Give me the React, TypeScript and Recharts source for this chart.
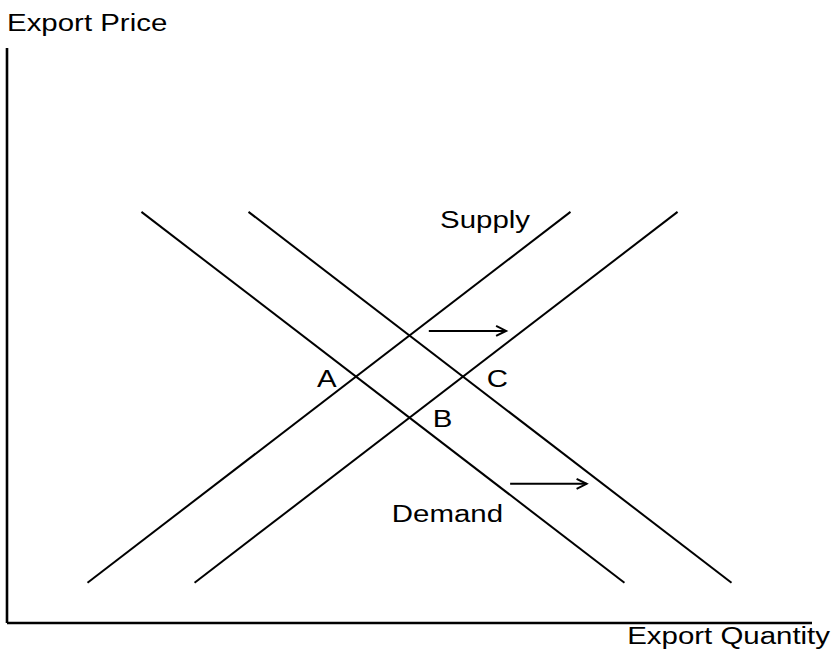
import React from "react";
import { ComposedChart, Line, Scatter, XAxis, YAxis, Label } from "recharts";

// Curves (quantity, price) in chart units 0..100
const supply1 = [
  { x: 10.0, y: 7.0 },
  { x: 70.0, y: 71.5 },
];
const supply2 = [
  { x: 23.3, y: 7.0 },
  { x: 83.3, y: 71.5 },
];
const demand1 = [
  { x: 16.7, y: 71.5 },
  { x: 76.7, y: 7.0 },
];
const demand2 = [
  { x: 30.0, y: 71.5 },
  { x: 90.0, y: 7.0 },
];
const arrowUpper = [
  { x: 52.4, y: 50.8 },
  { x: 62.0, y: 50.8 },
];
const arrowLower = [
  { x: 62.5, y: 24.2 },
  { x: 72.0, y: 24.2 },
];
const pointLabels = [
  { x: 53.8, y: 68.7, text: "Supply" },
  { x: 47.8, y: 17.6, text: "Demand" },
  { x: 38.5, y: 41.0, text: "A" },
  { x: 52.9, y: 34.1, text: "B" },
  { x: 59.6, y: 41.0, text: "C" },
];
const xTitle = "Export Quantity";
const yTitle = "Export Price";

const FONT = "'Liberation Sans', Arial, sans-serif";
const FS = 23;
const SX = 1.28;
const LW = 2;

const StretchText = ({ x, y, text, anchor = "start" }: any) => (
  <g transform={`translate(${x},${y}) scale(${SX},1)`}>
    <text x={0} y={0} fontFamily={FONT} fontSize={FS} fill="#000" textAnchor={anchor}>
      {text}
    </text>
  </g>
);

const arrowDot = (len: number) => (props: any) => {
  const { cx, cy, index } = props;
  if (index !== len - 1 || cx == null) return <g key={`d${index}`} />;
  return (
    <path
      key={`d${index}`}
      d={`M${cx - 10},${cy - 5} L${cx},${cy} L${cx - 10},${cy + 5}`}
      fill="none"
      stroke="#000"
      strokeWidth={LW}
    />
  );
};

const labelShape = (props: any) => {
  const { cx, cy, payload } = props;
  return <StretchText x={cx} y={cy} text={payload.text} />;
};

export default function App() {
  return (
    <div style={{ position: "absolute", left: 0, top: 0, width: 833, height: 664, background: "#fff" }}>
      <ComposedChart
        width={833}
        height={664}
        margin={{ top: 48, right: 21, bottom: 40, left: 6 }}
      >
        <XAxis
          type="number"
          dataKey="x"
          domain={[0, 100]}
          height={1}
          tick={false}
          tickLine={false}
          axisLine={{ stroke: "#000", strokeWidth: 2.6 }}
        >
          <Label
            content={(p: any) => {
              const vb = p.viewBox || { x: 7, y: 623, width: 805 };
              return <StretchText x={vb.x + vb.width + 18} y={vb.y + 21} text={xTitle} anchor="end" />;
            }}
          />
        </XAxis>
        <YAxis
          type="number"
          dataKey="y"
          domain={[0, 100]}
          width={1}
          tick={false}
          tickLine={false}
          axisLine={{ stroke: "#000", strokeWidth: 2.6 }}
        >
          <Label
            content={(p: any) => {
              const vb = p.viewBox || { x: 7, y: 48 };
              return <StretchText x={vb.x + vb.width} y={vb.y - 17} text={yTitle} />;
            }}
          />
        </YAxis>
        <Line data={supply1} dataKey="y" stroke="#000" strokeWidth={LW} dot={false} isAnimationActive={false} />
        <Line data={supply2} dataKey="y" stroke="#000" strokeWidth={LW} dot={false} isAnimationActive={false} />
        <Line data={demand1} dataKey="y" stroke="#000" strokeWidth={LW} dot={false} isAnimationActive={false} />
        <Line data={demand2} dataKey="y" stroke="#000" strokeWidth={LW} dot={false} isAnimationActive={false} />
        <Line
          data={arrowUpper}
          dataKey="y"
          stroke="#000"
          strokeWidth={LW}
          dot={arrowDot(arrowUpper.length)}
          isAnimationActive={false}
        />
        <Line
          data={arrowLower}
          dataKey="y"
          stroke="#000"
          strokeWidth={LW}
          dot={arrowDot(arrowLower.length)}
          isAnimationActive={false}
        />
        <Scatter data={pointLabels} dataKey="y" shape={labelShape} isAnimationActive={false} />
      </ComposedChart>
    </div>
  );
}
